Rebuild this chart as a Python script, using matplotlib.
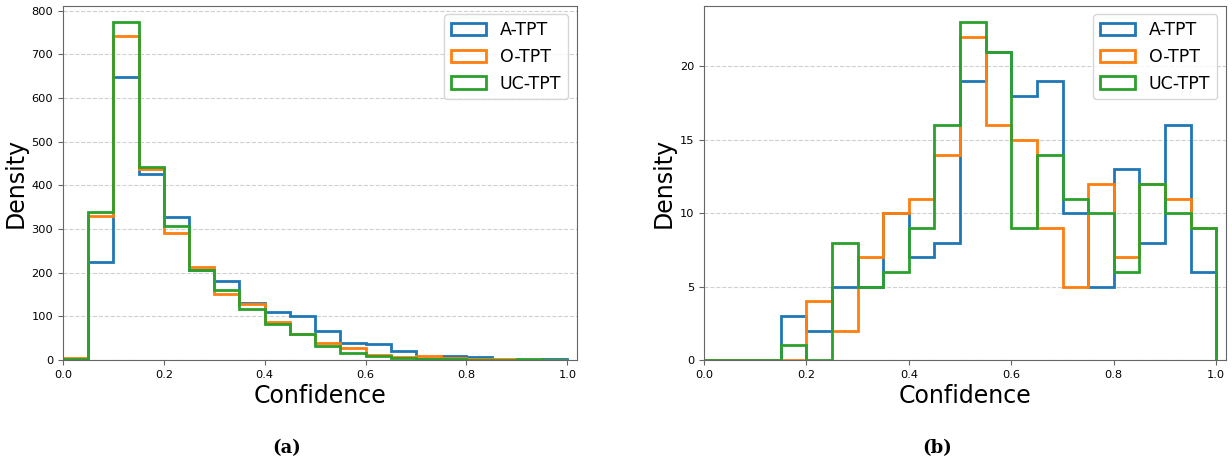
import numpy as np
import matplotlib.pyplot as plt

# bin edges shared by both panels
edges = np.linspace(0, 1, 21)
labels = ['A-TPT', 'O-TPT', 'UC-TPT']
colors = ['#1f77b4', '#ff7f0e', '#2ca02c']

# (a) values per bin
a_atpt = [2, 225, 647, 425, 328, 205, 182, 130, 110, 100, 67, 38, 37, 20, 2, 8, 7, 1, 1, 3]
a_otpt = [5, 330, 741, 438, 291, 212, 152, 128, 86, 60, 40, 28, 12, 6, 8, 4, 2, 2, 1, 1]
a_uctpt = [2, 340, 773, 443, 307, 205, 160, 117, 83, 60, 31, 17, 9, 5, 2, 2, 1, 1, 2, 1]

# (b) values per bin
b_atpt = [0, 0, 0, 3, 2, 5, 5, 10, 7, 8, 19, 21, 18, 19, 10, 5, 13, 8, 16, 6]
b_otpt = [0, 0, 0, 0, 4, 2, 7, 10, 11, 14, 22, 16, 15, 9, 5, 12, 7, 12, 11, 9]
b_uctpt = [0, 0, 0, 1, 0, 8, 5, 6, 9, 16, 23, 21, 9, 14, 11, 10, 6, 12, 10, 9]

centers = (edges[:-1] + edges[1:]) / 2

fig = plt.figure(figsize=(12.32, 4.63), dpi=100)
ax1 = fig.add_axes([0.0511, 0.2225, 0.4172, 0.7655])
ax2 = fig.add_axes([0.5714, 0.2225, 0.4237, 0.7655])

for ax, series in [(ax1, [a_atpt, a_otpt, a_uctpt]), (ax2, [b_atpt, b_otpt, b_uctpt])]:
    for vals, lab, c in zip(series, labels, colors):
        ax.hist(centers, bins=edges, weights=vals, histtype='step',
                linewidth=2, color=c, label=lab)
    ax.set_xlim(0, 1.019)
    ax.set_ylim(bottom=0)
    ax.set_xlabel('Confidence', fontsize=17, labelpad=3)
    ax.set_ylabel('Density', fontsize=17, labelpad=3)
    ax.tick_params(labelsize=8.2, color='#666666')
    ax.yaxis.grid(True, linestyle='--', color='#d0d0d0', linewidth=0.8)
    ax.set_axisbelow(True)
    for sp in ax.spines.values():
        sp.set_color('#666666')
    ax.legend(loc='upper right', fontsize=12.5)

fig.text(0.233, 0.022, '(a)', fontsize=13, fontweight='bold', family='DejaVu Serif', ha='center')
fig.text(0.761, 0.022, '(b)', fontsize=13, fontweight='bold', family='DejaVu Serif', ha='center')

plt.savefig('out.png', dpi=100)
